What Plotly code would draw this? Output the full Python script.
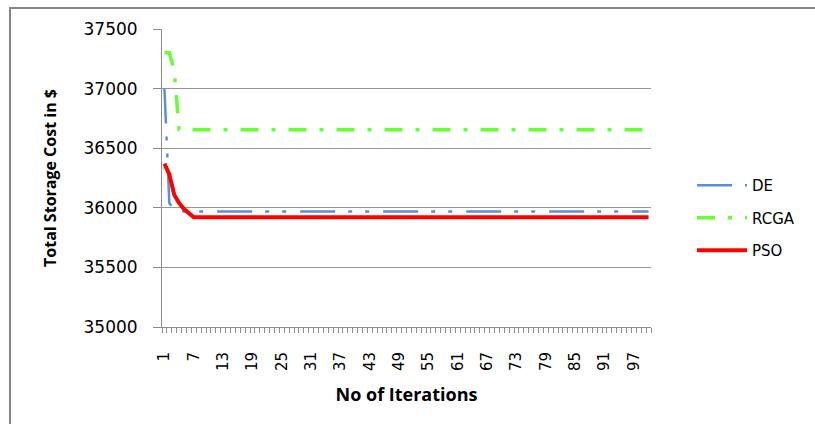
import plotly.graph_objects as go

# Iteration index (1..100)
iterations = list(range(1, 101))

# Total storage cost per iteration for each optimiser
de_cost = [37000, 36040, 35985] + [35970] * 97
rcga_cost = [37300, 37300, 37150, 36655] + [36655] * 96
pso_cost = [36370, 36280, 36110, 36040, 35990, 35955, 35920] + [35920] * 93

x_tick_vals = list(range(1, 101, 6))
x_tick_text = [str(v) for v in x_tick_vals]
y_tick_vals = [35000, 35500, 36000, 36500, 37000, 37500]
y_tick_text = [str(v) for v in y_tick_vals]

FONT = "DejaVu Sans"
TITLE_FONT = "Open Sans"

fig = go.Figure()
fig.add_trace(go.Scatter(
    x=iterations, y=de_cost, name="DE", mode="lines", legendgroup="de",
    line=dict(color="#5A8ED8", width=2.5, dash="35px,13px,4px,13px,4px,14px"),
))
fig.add_trace(go.Scatter(
    x=iterations, y=rcga_cost, name="RCGA", mode="lines", legendgroup="rcga",
    line=dict(color="#66FF33", width=3.5, dash="18px,13px,4px,13px"),
))
fig.add_trace(go.Scatter(
    x=iterations, y=pso_cost, name="PSO", mode="lines", legendgroup="pso",
    line=dict(color="#FF0000", width=4),
))

L, R, T, B = 162, 651, 29, 327
W, H = 815, 424


def px(xp):
    return (xp - L) / (R - L)


def py(yp):
    return (B - yp) / (B - T)


fig.update_layout(
    width=W, height=H,
    margin=dict(l=L, r=W - R, t=T, b=H - B),
    paper_bgcolor="white", plot_bgcolor="white",
    font=dict(family=FONT, color="black"),
    showlegend=True,
    legend=dict(
        x=px(692), y=py(169), xanchor="left", yanchor="top",
        font=dict(family=FONT, size=15, color="black"),
        tracegroupgap=10, itemwidth=50, bgcolor="rgba(0,0,0,0)",
    ),
    xaxis=dict(
        range=[0.5, 100.5],
        tickmode="array", tickvals=x_tick_vals, ticktext=x_tick_text,
        tickangle=-90, ticks="", ticklabelstandoff=18,
        tickfont=dict(family=FONT, size=15, color="black"),
        showgrid=False, zeroline=False,
        showline=True, linecolor="#8C8C8C", linewidth=1,
        minor=dict(tickmode="array", tickvals=[v + 0.5 for v in range(0, 101)],
                   ticks="outside", ticklen=5, tickcolor="#8C8C8C", showgrid=False),
        title=dict(text="<b>No of Iterations</b>", standoff=18,
                   font=dict(family=TITLE_FONT, size=18, color="black")),
    ),
    yaxis=dict(
        range=[35000, 37500],
        tickmode="array", tickvals=y_tick_vals, ticktext=y_tick_text,
        ticks="outside", ticklen=8, tickcolor="#8C8C8C", ticklabelstandoff=12,
        tickfont=dict(family=FONT, size=17, color="black"),
        showgrid=True, gridcolor="#969696", gridwidth=1,
        zeroline=False, showline=True, linecolor="#8C8C8C", linewidth=1,
        title=dict(text="<b>Total Storage Cost in $</b>", standoff=22,
                   font=dict(family=TITLE_FONT, size=16, color="black")),
    ),
    shapes=[dict(
        type="rect", xref="paper", yref="paper",
        x0=px(10), x1=px(830), y0=py(8), y1=py(440),
        line=dict(color="#868686", width=2), fillcolor="rgba(0,0,0,0)", layer="below",
    )],
)

fig.write_html("out.html")
